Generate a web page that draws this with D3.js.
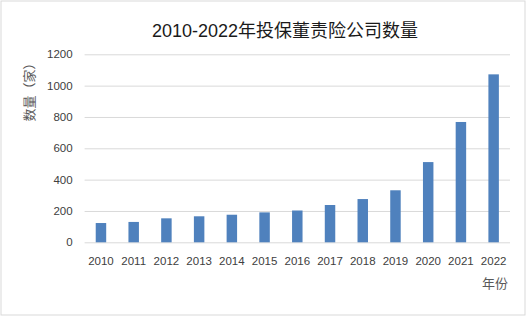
<!DOCTYPE html>
<html><head><meta charset="utf-8">
<script src="https://cdn.jsdelivr.net/npm/d3@7"></script>
<style>body{margin:0;background:#fff;}svg{display:block;}</style>
</head><body>
<script>
const title = "2010-2022年投保董责险公司数量";
const years = ["2010","2011","2012","2013","2014","2015","2016","2017","2018","2019","2020","2021","2022"];
const counts = [123,130,153,166,176,191,203,238,276,332,512,768,1072];
const yTicks = [0,200,400,600,800,1000,1200];
const yLabel = "数量（家）";
const xLabel = "年份";

const W = 529, H = 320;
const svg = d3.select("body").append("svg").attr("width", W).attr("height", H);
svg.append("rect").attr("x",1).attr("y",1).attr("width",524).attr("height",314)
  .attr("fill","#fff").attr("stroke","#d9d9d9").attr("stroke-width",1);

const m = {left:84.6, right:510, top:54.3, bottom:242.3};
const x = d3.scaleBand().domain(years).range([m.left, m.right]).paddingInner(0.68).paddingOuter(0.34);
const y = d3.scaleLinear().domain([0,1200]).range([m.bottom, m.top]);

const cjk = "'Noto Sans CJK SC', sans-serif";
const lat = "'Liberation Sans', Arial, sans-serif";

svg.append("text").attr("x", 285).attr("y", 37).attr("text-anchor","middle")
  .attr("font-family", "'Liberation Sans', 'Noto Sans CJK SC', sans-serif").attr("font-size", 18).attr("fill","#1a1a1a").text(title);

const gy = svg.append("g").attr("transform", `translate(${m.left},0)`)
  .call(d3.axisLeft(y).tickValues(yTicks).tickSize(-(m.right-m.left)).tickPadding(12).tickFormat(d3.format("d")));
gy.select(".domain").remove();
gy.selectAll(".tick line").attr("stroke","#d9d9d9").attr("stroke-width",1);
gy.selectAll(".tick text").attr("font-family",lat).attr("font-size",11.5).attr("fill","#404040");

svg.append("g").selectAll("rect").data(years).join("rect")
  .attr("x", d => x(d)).attr("width", x.bandwidth())
  .attr("y", (d,i) => y(counts[i])).attr("height", (d,i) => y(0)-y(counts[i]))
  .attr("fill","#4f81bd");

const gx = svg.append("g").attr("transform", `translate(0,${m.bottom})`)
  .call(d3.axisBottom(x).tickSize(0).tickPadding(15));
gx.select(".domain").remove();
gx.selectAll(".tick text").attr("font-family",lat).attr("font-size",11.5).attr("fill","#404040");

svg.append("text").attr("transform", `translate(34,89) rotate(-90)`).attr("text-anchor","middle")
  .attr("font-family",cjk).attr("font-size",13).attr("fill","#595959").text(yLabel);

svg.append("text").attr("x", 508).attr("y", 288).attr("text-anchor","end")
  .attr("font-family",cjk).attr("font-size",13).attr("fill","#595959").text(xLabel);
</script>
</body></html>
